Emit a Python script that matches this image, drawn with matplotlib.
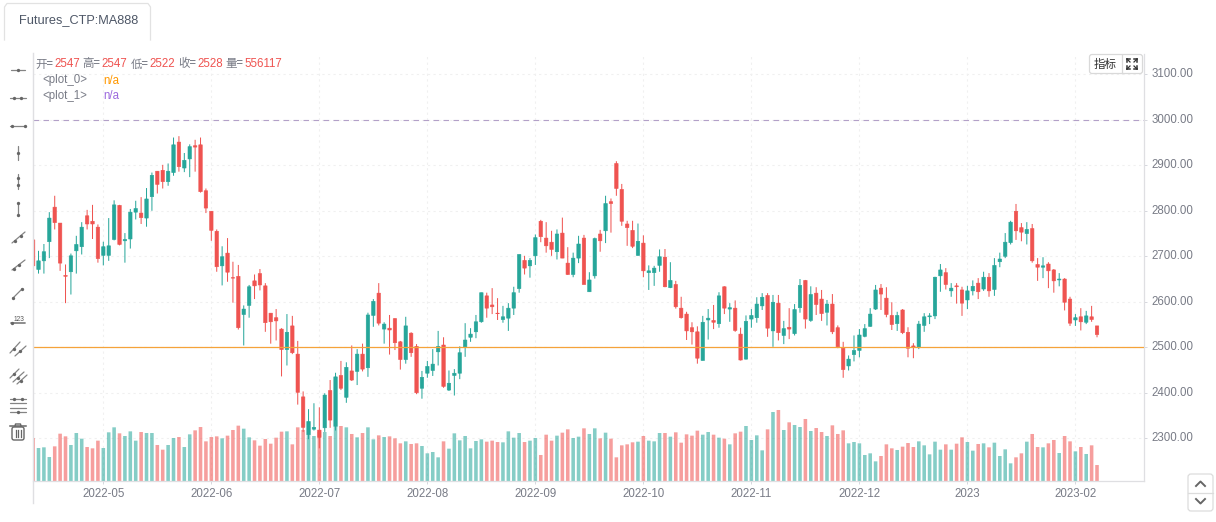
import matplotlib
matplotlib.use("Agg")
import matplotlib.pyplot as plt
from matplotlib.patches import FancyBboxPatch
import numpy as np

plt.rcParams['font.family'] = ['Liberation Sans', 'Noto Sans CJK SC', 'DejaVu Sans']

opens = [2736,2671,2690,2732,2808,2773,2658,2666,2712,2721,2789,2777,2764,2702,2702,2737,2812,2734,2738,2797,
         2795,2784,2831,2887,2889,2864,2884,2951,2894,2914,2943,2945,2844,2799,2755,2679,2707,2653,2656,2572,
         2592,2646,2662,2635,2575,2565,2540,2495,2547,2485,2391,2308,2320,2318,2323,2405,2326,2438,2390,2448,
         2447,2485,2455,2570,2619,2540,2542,2563,2512,2473,2531,2502,2410,2443,2449,2490,2505,2406,2438,2443,
         2501,2522,2534,2556,2613,2593,2575,2561,2564,2586,2629,2691,2679,2701,2777,2740,2731,2710,2751,2685,
         2660,2696,2740,2622,2657,2749,2756,2820,2904,2847,2771,2757,2702,2729,2664,2664,2680,2698,2631,2638,
         2586,2573,2543,2534,2471,2560,2559,2552,2633,2584,2586,2529,2474,2562,2565,2591,2614,2536,2597,2526,
         2544,2530,2587,2647,2559,2619,2606,2577,2595,2543,2498,2459,2484,2493,2524,2546,2584,2630,2608,2570,
         2552,2582,2533,2503,2499,2548,2567,2569,2657,2664,2624,2635,2626,2604,2624,2641,2628,2654,2627,2688,
         2700,2730,2799,2763,2750,2761,2682,2676,2683,2670,2648,2650,2606,2560,2567,2555,2567,2547]
highs = [2765,2712,2727,2797,2833,2773,2682,2706,2745,2775,2802,2813,2770,2732,2784,2823,2813,2751,2804,2822,
         2830,2850,2884,2887,2901,2904,2961,2964,2927,2946,2956,2961,2849,2799,2759,2722,2740,2688,2681,2592,
         2637,2660,2672,2641,2575,2584,2542,2573,2569,2514,2403,2364,2377,2368,2399,2428,2444,2470,2467,2504,
         2496,2508,2576,2606,2641,2555,2571,2564,2514,2567,2533,2507,2448,2470,2496,2536,2522,2449,2452,2502,
         2553,2542,2571,2620,2620,2630,2608,2591,2597,2633,2704,2701,2696,2748,2780,2775,2756,2759,2785,2720,
         2708,2745,2747,2665,2741,2758,2833,2827,2909,2859,2778,2778,2772,2746,2680,2679,2715,2716,2687,2646,
         2611,2578,2555,2546,2569,2584,2593,2621,2634,2597,2603,2543,2570,2584,2610,2619,2619,2615,2615,2558,
         2586,2595,2650,2648,2634,2632,2626,2604,2617,2548,2512,2482,2526,2540,2551,2586,2637,2639,2632,2599,
         2578,2584,2544,2509,2558,2575,2575,2655,2683,2674,2641,2641,2633,2635,2647,2652,2666,2663,2696,2708,
         2751,2778,2815,2773,2775,2771,2696,2698,2687,2672,2663,2652,2611,2573,2586,2580,2591,2547]
lows = [2653,2662,2662,2696,2759,2668,2597,2616,2662,2704,2759,2738,2686,2680,2690,2735,2724,2686,2717,2781,
        2771,2765,2800,2838,2849,2855,2877,2886,2885,2874,2886,2840,2795,2734,2666,2636,2644,2598,2539,2504,
        2565,2606,2625,2534,2508,2515,2436,2460,2485,2374,2314,2298,2317,2278,2314,2323,2317,2406,2378,2426,
        2417,2447,2435,2545,2548,2508,2484,2494,2451,2464,2479,2397,2387,2433,2437,2460,2411,2404,2394,2430,
        2479,2512,2520,2554,2565,2573,2560,2554,2536,2571,2620,2660,2653,2681,2731,2708,2701,2693,2696,2659,
        2654,2685,2638,2622,2651,2710,2729,2752,2833,2767,2723,2718,2701,2654,2626,2635,2666,2632,2630,2585,
        2563,2516,2506,2464,2471,2517,2540,2543,2573,2556,2534,2471,2473,2543,2554,2582,2523,2501,2515,2507,
        2518,2526,2576,2541,2556,2571,2558,2548,2529,2498,2433,2449,2469,2478,2522,2545,2582,2582,2566,2538,
        2536,2529,2478,2476,2496,2534,2551,2562,2622,2627,2611,2596,2569,2584,2614,2606,2624,2611,2613,2676,
        2696,2726,2736,2733,2726,2686,2646,2652,2630,2620,2634,2581,2547,2547,2537,2551,2556,2522]
closes = [2679,2690,2710,2784,2774,2685,2656,2701,2726,2764,2771,2771,2695,2721,2723,2813,2726,2737,2797,2805,
          2785,2826,2878,2858,2864,2887,2945,2897,2911,2941,2940,2842,2806,2757,2677,2699,2665,2652,2543,2584,
          2633,2635,2637,2554,2556,2558,2495,2533,2488,2401,2324,2337,2324,2302,2395,2340,2435,2410,2456,2428,
          2485,2452,2571,2601,2553,2551,2538,2510,2473,2547,2488,2400,2434,2458,2463,2502,2414,2421,2443,2488,
          2516,2529,2556,2620,2586,2589,2574,2567,2586,2620,2704,2674,2691,2741,2743,2723,2715,2749,2696,2660,
          2696,2727,2638,2648,2739,2734,2816,2816,2849,2777,2763,2722,2733,2668,2668,2674,2699,2633,2647,2589,
          2565,2536,2534,2476,2555,2564,2555,2613,2586,2587,2537,2472,2557,2570,2595,2610,2542,2599,2532,2541,
          2540,2583,2636,2562,2616,2594,2574,2595,2534,2501,2451,2474,2493,2527,2541,2573,2626,2617,2572,2550,
          2570,2532,2498,2500,2551,2567,2569,2654,2670,2638,2630,2633,2597,2624,2634,2622,2654,2624,2680,2694,
          2731,2775,2756,2753,2759,2690,2676,2679,2668,2646,2650,2599,2553,2565,2556,2569,2561,2528]
# volume in thousands
volumes = [1496,1148,1172,835,1206,1647,1554,1253,1670,1473,1183,1137,1404,1148,1694,1868,1659,1566,1728,1404,
           1705,1670,1670,1253,1090,1253,1496,1531,1183,1624,1763,1879,1380,1531,1554,1485,1578,1775,1926,1821,
           1520,1415,1230,1462,1299,1508,1717,1728,1276,1868,1775,1636,1566,1705,1705,1566,1891,1914,1868,1636,
           1520,1670,1868,1450,1589,1531,1554,1485,1311,1380,1288,1311,1218,963,1009,824,1380,1125,1659,1415,
           1566,1137,1392,1450,1369,1404,1357,1346,1728,1508,1670,1357,1404,1496,905,1612,1404,1578,1682,1798,
           1496,1543,1833,1636,1833,1485,1682,1473,824,1241,1276,1346,1369,1566,1404,1380,1670,1670,1543,1694,
           1334,1624,1578,1752,1612,1705,1612,1508,1473,1276,1659,1717,1914,1427,1589,1067,1798,2401,2471,1775,
           2042,1949,1879,2158,1740,1844,1705,1566,1937,1636,1763,1311,1357,1311,905,963,684,870,1276,1137,
           1079,1195,1322,1183,1380,1241,928,1369,1090,1276,1090,1299,1520,1357,1056,1288,1311,1172,1334,870,
           1102,615,824,963,1369,1636,1183,1172,1311,1427,974,1566,1380,1032,1183,940,1241,556]
price_ticks = [2300, 2400, 2500, 2600, 2700, 2800, 2900, 3000, 3100]
month_bars = [13, 33, 53, 73, 93, 113, 133, 153, 173, 193]
month_labels = ['2022-05', '2022-06', '2022-07', '2022-08', '2022-09', '2022-10',
                '2022-11', '2022-12', '2023', '2023-02']

UP = '#26a69a'
DOWN = '#ef5350'
AXIS = '#dfdfe2'
TEXT = '#787b86'
W, H = 1216, 522
XLIM = (-0.02, 205.7)
YLIM = (2206.1, 3144.6)

opens = np.array(opens)
closes = np.array(closes)
highs = np.array(highs)
lows = np.array(lows)
volumes = np.array(volumes)
x = np.arange(len(opens))
colors = np.where(closes >= opens, UP, DOWN)

fig = plt.figure(figsize=(W / 100, H / 100), dpi=100, facecolor='white')
rect = [33 / W, (H - 481) / H, (1144 - 33) / W, (481 - 54) / H]

# grid goes in its own pane so the volume bars cover it
axg = fig.add_axes(rect, zorder=0)
axg.set_xlim(*XLIM)
axg.set_ylim(*YLIM)
axg.set_xticks(month_bars)
axg.set_yticks(price_ticks)
axg.grid(True, color='#f0f0f0', linewidth=0.8, linestyle=(0, (2, 3)))
axg.tick_params(length=0, labelbottom=False, labelleft=False)
for spine in axg.spines.values():
    spine.set_visible(False)

axv = fig.add_axes(rect, zorder=1)
axv.bar(x, volumes, width=0.66, color=colors, alpha=0.56, linewidth=0, snap=False)
axv.set_xlim(*XLIM)
axv.set_ylim(0, 14860)
axv.axis('off')

ax = fig.add_axes(rect, zorder=2)
ax.patch.set_alpha(0)
ax.set_xlim(*XLIM)
ax.set_ylim(*YLIM)

ax.vlines(x, lows, highs, colors=colors, linewidth=0.72, zorder=3, snap=False)
ax.bar(x, np.abs(closes - opens), bottom=np.minimum(opens, closes), width=0.64, color=colors,
       edgecolor=colors, linewidth=0.4, zorder=4, snap=False)

ax.axhline(3000, color='#b3a0c8', linewidth=0.8, dashes=(5, 4), zorder=2)
ax.axhline(2500, color='#f5a33a', linewidth=0.9, zorder=5)

ax.set_yticks(price_ticks)
ax.set_yticklabels(['%.2f' % p for p in price_ticks])
ax.yaxis.tick_right()
ax.set_xticks(month_bars)
ax.set_xticklabels(month_labels)
ax.tick_params(axis='both', length=2.5, width=0.7, color='#d5d7dd', labelcolor=TEXT, labelsize=8.3)
ax.tick_params(axis='x', pad=2.6)
ax.tick_params(axis='y', pad=2.8)
for label in ax.get_yticklabels():
    label.set_verticalalignment('center')
for side in ['top', 'left']:
    ax.spines[side].set_visible(False)
for side in ['right', 'bottom']:
    ax.spines[side].set_color(AXIS)
    ax.spines[side].set_linewidth(0.9)

# everything else is page furniture, laid out in pixels
ui = fig.add_axes([0, 0, 1, 1], zorder=3)
ui.set_xlim(0, W)
ui.set_ylim(H, 0)
ui.axis('off')

ui.plot([33, 33], [53, 503], color=AXIS, linewidth=1)

# tab
ui.plot([4.5, 4.5, 7, 148, 150.5, 150.5], [40, 7, 3.5, 3.5, 7, 40], color='#e2e2e2', linewidth=0.9)
ui.text(18.5, 20.5, 'Futures_CTP:MA888', fontsize=9.15, color='#4d5666', va='center', ha='left')

# OHLC header
header = [(35, '开=', TEXT), (54, '2547', DOWN), (82.5, '高=', TEXT), (101.7, '2547', DOWN),
          (130.3, '低=', TEXT), (149.3, '2522', DOWN), (178, '收=', TEXT), (197, '2528', DOWN),
          (225.7, '量=', TEXT), (244.7, '556117', DOWN)]
for tx, label, c in header:
    ui.text(tx, 64, label, fontsize=8.3, color=c, va='center', ha='left',
            family=['Noto Sans CJK SC', 'Liberation Sans'] if c == TEXT else ['Liberation Sans'])
ui.text(42, 80.5, '<plot_0>', fontsize=8.3, color=TEXT, va='center', ha='left')
ui.text(103, 80.5, 'n/a', fontsize=8.3, color='#ff9800', va='center', ha='left')
ui.text(42, 96, '<plot_1>', fontsize=8.3, color=TEXT, va='center', ha='left')
ui.text(103, 96, 'n/a', fontsize=8.3, color='#9c6ade', va='center', ha='left')


def seg(x0, y0, x1, y1, dots=(), lw=0.9, c='#666666'):
    ui.plot([x0, x1], [y0, y1], color=c, linewidth=lw, solid_capstyle='round', alpha=0.8)
    for px, py in dots:
        ui.plot(px, py, 'o', color=c, markersize=2.4, markeredgewidth=0)


# drawing toolbar
seg(11, 70, 25, 70, [(18, 70)])
seg(10, 98, 26, 98, [(14, 98), (21, 98)])
seg(10, 125.5, 26, 125.5, [(11.5, 125.5), (24.5, 125.5)])
seg(18, 146, 18, 160, [(18, 153)])
seg(18, 174, 18, 189, [(18, 178), (18, 185)])
seg(18, 202, 18, 216, [(18, 203), (18, 215)])
seg(12, 243, 25, 232, [(15, 241), (20.5, 235.5)])
seg(12, 270, 25, 260, [(14, 269), (19, 265)])
seg(13, 298, 22, 289, [(13, 298), (22, 289)])
seg(11, 323, 25, 323, [(12, 323)], lw=1.3)
ui.text(19, 319.5, '123', fontsize=4.8, color='#555555', ha='center', va='center')
seg(10, 353, 20, 342, [(14, 349)])
seg(15, 356, 26, 346, [(20, 351)])
seg(10, 378, 19, 369, [(14, 374)])
seg(13, 382, 24, 372, [(18, 378)])
seg(17, 384, 27, 375, [(21, 381)])
for ly in [399, 403, 407.5, 411.5]:
    seg(10, ly, 26, ly)
for dx, dy in [(14, 399), (22, 399), (18, 411.5)]:
    seg(dx, dy, dx, dy, [(dx, dy)])

# trash can
ui.plot([10, 26], [426, 426], color='#666666', linewidth=1.1)
ui.plot([15, 15.5, 20.5, 21], [426, 424, 424, 426], color='#666666', linewidth=1)
ui.add_patch(FancyBboxPatch((12, 427), 12, 13, boxstyle='round,pad=0,rounding_size=2',
                            fill=False, edgecolor='#666666', linewidth=1))
for tx in [15.5, 18, 20.5]:
    ui.plot([tx, tx], [430, 437], color='#666666', linewidth=0.9)

# indicator button
ui.add_patch(FancyBboxPatch((1089.5, 54.5), 53, 19, boxstyle='round,pad=0,rounding_size=2.5',
                            facecolor='white', edgecolor='#d9d9d9', linewidth=0.9, zorder=6))
ui.plot([1122, 1122], [55, 73], color='#d9d9d9', linewidth=0.9, zorder=7)
ui.text(1105.5, 64, '指标', fontsize=8.3, color='#333333', ha='center', va='center',
        family=['Noto Sans CJK SC'], zorder=7)
for sx, sy in [(1127, 59), (1137, 59), (1127, 69), (1137, 69)]:
    ex = 1 if sx < 1132 else -1
    ey = 1 if sy < 64 else -1
    ui.plot([sx, sx + 3 * ex], [sy, sy], color='#333333', linewidth=1.1, zorder=7)
    ui.plot([sx, sx], [sy, sy + 3 * ey], color='#333333', linewidth=1.1, zorder=7)
    ui.plot([sx, sx + 3 * ex], [sy, sy + 3 * ey], color='#333333', linewidth=0.9, zorder=7)

# scroll buttons
ui.add_patch(FancyBboxPatch((1188, 474), 25, 37, boxstyle='round,pad=0,rounding_size=3',
                            facecolor='white', edgecolor='#dcdcdc', linewidth=0.9))
ui.plot([1188, 1213], [492.5, 492.5], color='#dcdcdc', linewidth=0.9)
ui.plot([1196, 1200.5, 1205], [486, 481.5, 486], color='#666666', linewidth=1.4)
ui.plot([1196, 1200.5, 1205], [499, 503.5, 499], color='#666666', linewidth=1.4)

fig.savefig('out.png', dpi=100, facecolor='white')
